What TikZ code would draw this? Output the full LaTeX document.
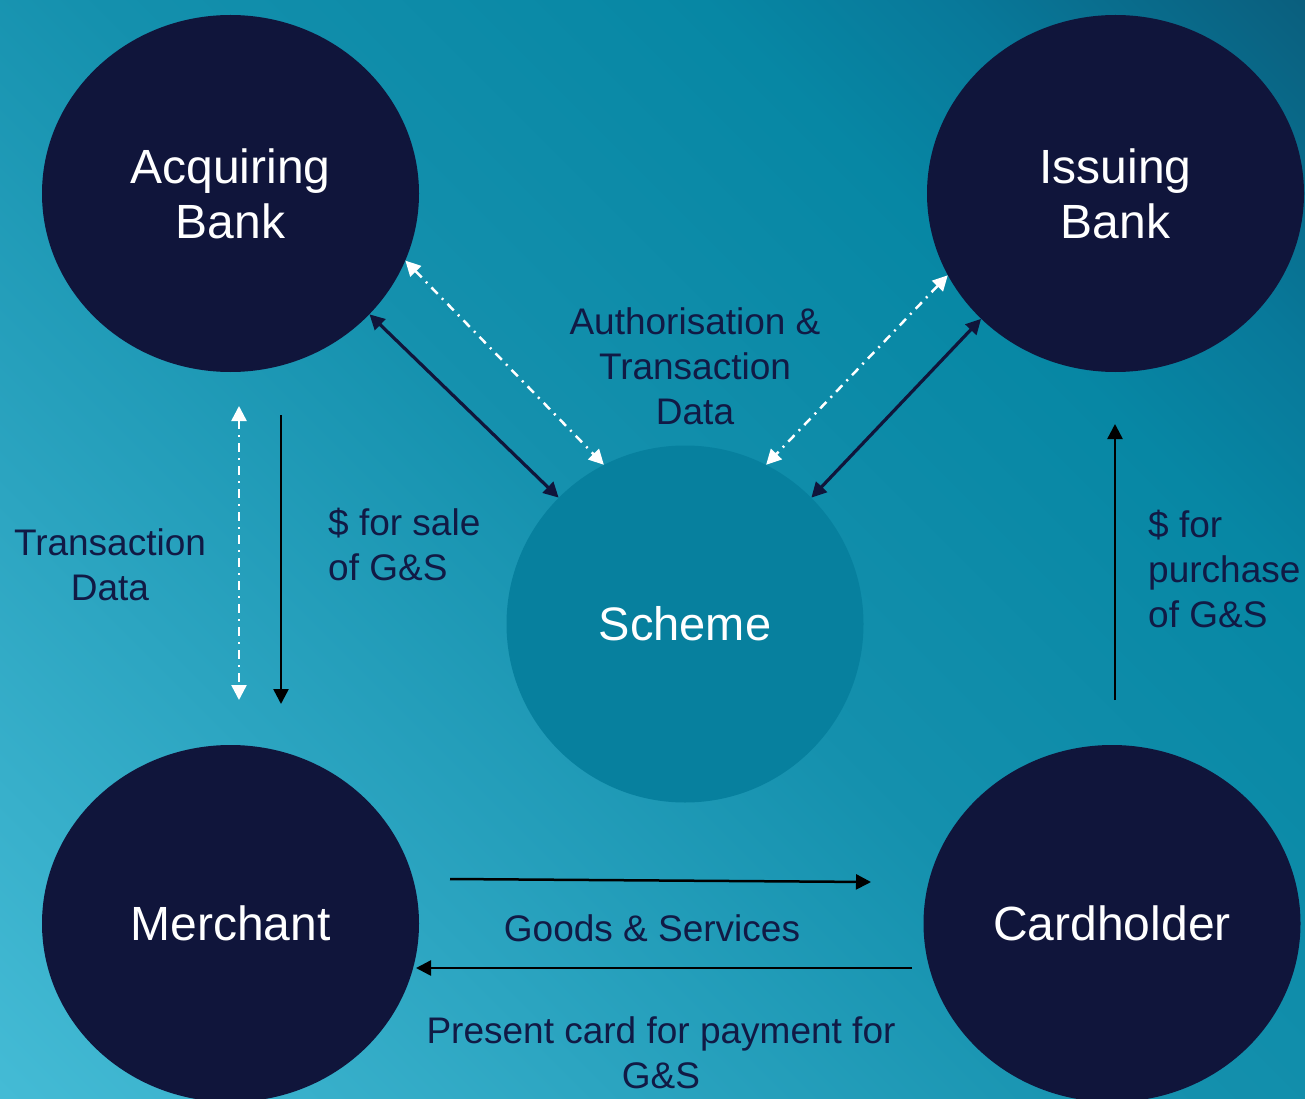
\documentclass[tikz,border=0pt]{standalone}
\usepackage{fontspec}
\setmainfont{Liberation Sans}
\usetikzlibrary{shapes.geometric,arrows.meta}
\definecolor{navy}{HTML}{10153B}
\definecolor{inktext}{HTML}{111A45}
\definecolor{schemefill}{HTML}{07809E}
% backdrop: light lower left, teal across the middle, dark upper right
\pgfdeclareverticalshading{backdrop}{100bp}{%
  color(0bp)=(rgb,255:red,68;green,187;blue,213);
  color(14.6bp)=(rgb,255:red,68;green,187;blue,213);
  color(32.3bp)=(rgb,255:red,44;green,165;blue,193);
  color(50bp)=(rgb,255:red,20;green,144;blue,173);
  color(67.7bp)=(rgb,255:red,7;green,135;blue,164);
  color(75bp)=(rgb,255:red,8;green,121;blue,154);
  color(85.4bp)=(rgb,255:red,10;green,95;blue,126);
  color(100bp)=(rgb,255:red,10;green,95;blue,126)}
\begin{document}
\begin{tikzpicture}[x=1pt,y=-1pt,
  party/.style={ellipse,fill=navy,minimum width=377pt,minimum height=357pt,inner sep=0pt,
    text=white,align=center,font=\fontsize{48}{55}\selectfont},
  hub/.style={circle,fill=schemefill,minimum size=357pt,inner sep=0pt,
    text=white,font=\fontsize{47}{55}\selectfont},
  lbl/.style={text=inktext,font=\fontsize{37}{45}\selectfont,inner sep=0pt},
  link/.style={navy,line width=3.2pt,{Triangle[length=15pt,width=15pt]}-{Triangle[length=15pt,width=15pt]}},
  datalink/.style={white,line width=2.5pt,dash pattern=on 9pt off 6pt on 2pt off 6pt,
    {Triangle[length=15pt,width=15pt]}-{Triangle[length=15pt,width=15pt]}},
  flow/.style={black,line width=2.5pt,-{Triangle[length=15pt,width=15pt]}}]
\useasboundingbox (0,0) rectangle (1305,1099);
\shade[shading=backdrop,shading angle=-45] (0,0) rectangle (1305,1099);

% parties
\node[party] (acq) at (230.5,193.5) {Acquiring\\ Bank};
\node[party] (iss) at (1115.5,193.5) {Issuing\\ Bank};
\node[party] (mer) at (230.5,923.5) {Merchant};
\node[party] (card) at (1112,923.5) {Cardholder};
\node[hub] (sch) at (685,624) {Scheme};

% scheme links
\draw[link] (acq.-41) -- (sch.135);
\draw[link] (iss.223) -- (sch.45);
\draw[datalink] (acq.-21) -- (sch.117);
\draw[datalink] (iss.206) -- (sch.63);

% acquirer / merchant
\coordinate (tdTop) at (239,406);
\coordinate (tdBot) at (239,700);
\coordinate (payTop) at (281,415);
\coordinate (payBot) at (281,704);
\draw[datalink] (tdTop) -- (tdBot);
\draw[flow] (payTop) -- (payBot);

% cardholder / issuer
\coordinate (buyBot) at (1115,700);
\coordinate (buyTop) at (1115,424);
\draw[flow] (buyBot) -- (buyTop);

% merchant / cardholder
\coordinate (gsFrom) at (450,879);
\coordinate (gsTo) at (871,882);
\coordinate (cardFrom) at (912,968);
\coordinate (cardTo) at (416,968);
\draw[flow] (gsFrom) -- (gsTo);
\draw[flow] (cardFrom) -- (cardTo);

% labels
\node[lbl,align=center] (authlbl) at (695,366) {Authorisation \&\\ Transaction\\ Data};
\node[lbl,align=center] (tdlbl) at (110,564.5) {Transaction\\ Data};
\node[lbl,align=left,anchor=west] (salelbl) at (328,544.5) {\$ for sale\\ of G\&S};
\node[lbl,align=left,anchor=west] (buylbl) at (1148,569) {\$ for\\ purchase\\ of G\&S};
\node[lbl] (gslbl) at (652,928) {Goods \& Services};
\node[lbl,align=center] (cardlbl) at (661,1053) {Present card for payment for\\ G\&S};
\end{tikzpicture}
\end{document}
